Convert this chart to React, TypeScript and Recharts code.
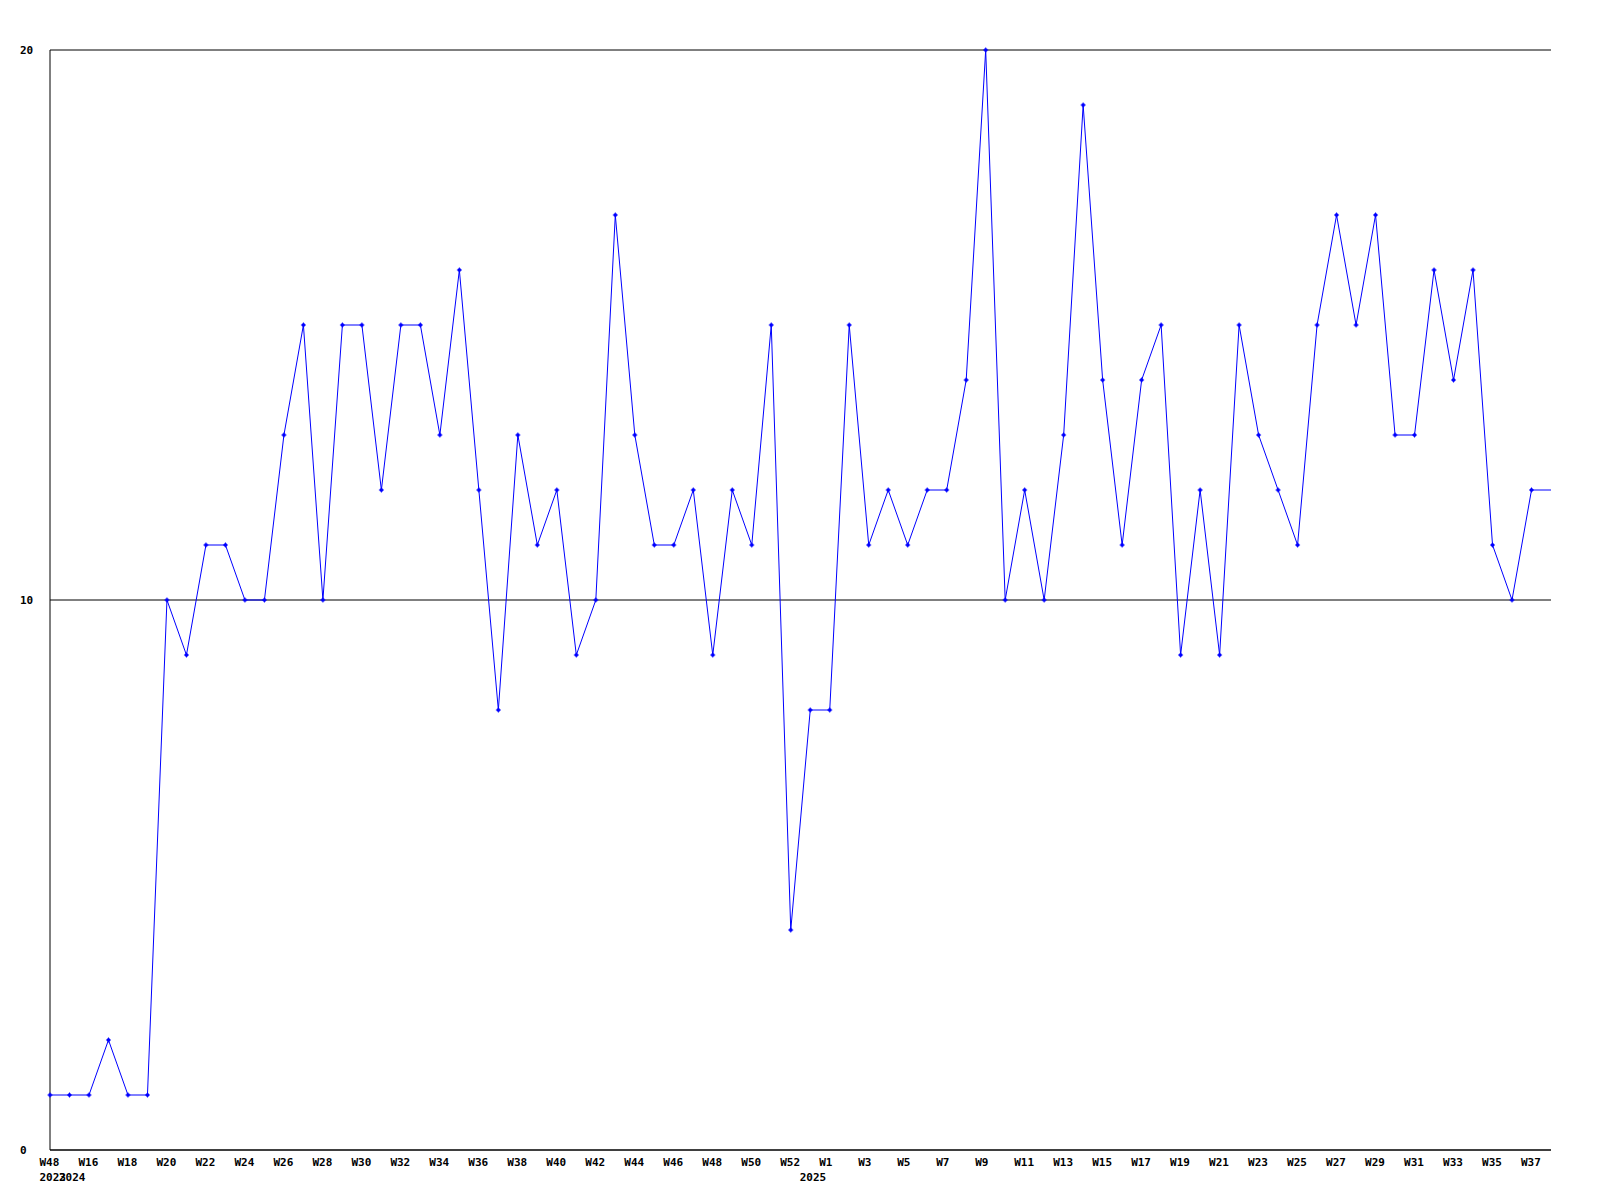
import React from "react";
import {
  LineChart,
  Line,
  XAxis,
  YAxis,
  CartesianGrid,
} from "recharts";

// ─── Data ──────────────────────────────────────────────────────────────────
const WEEKS = [
  "W48", "W15", "W16", "W17", "W18", "W19", "W20", "W21", "W22", "W23",
  "W24", "W25", "W26", "W27", "W28", "W29", "W30", "W31", "W32", "W33",
  "W34", "W35", "W36", "W37", "W38", "W39", "W40", "W41", "W42", "W43",
  "W44", "W45", "W46", "W47", "W48", "W49", "W50", "W51", "W52", "W0",
  "W1", "W2", "W3", "W4", "W5", "W6", "W7", "W8", "W9", "W10",
  "W11", "W12", "W13", "W14", "W15", "W16", "W17", "W18", "W19", "W20",
  "W21", "W22", "W23", "W24", "W25", "W26", "W27", "W28", "W29", "W30",
  "W31", "W32", "W33", "W34", "W35", "W36", "W37", "W38",
];

// year label shown where the year changes
const YEAR_MARKS: Record<number, string> = { 0: "2023", 1: "2024", 39: "2025" };

const VALUES = [
  1, 1, 1, 2, 1, 1, 10, 9, 11, 11,
  10, 10, 13, 15, 10, 15, 15, 12, 15, 15,
  13, 16, 12, 8, 13, 11, 12, 9, 10, 17,
  13, 11, 11, 12, 9, 12, 11, 15, 4, 8,
  8, 15, 11, 12, 11, 12, 12, 14, 20, 10,
  12, 10, 13, 19, 14, 11, 14, 15, 9, 12,
  9, 15, 13, 12, 11, 15, 17, 15, 17, 13,
  13, 16, 14, 16, 11, 10, 12, 12,
];

const Y_TICKS = [0, 10, 20];

const BLUE = "#0000ff";
const FONT = "'DejaVu Sans Mono', monospace";

const data = VALUES.map((v, i) => ({ i, v }));
const lastIndex = VALUES.length - 1;

// ─── Ticks / marks ─────────────────────────────────────────────────────────
function WeekTick(props: any) {
  const { x, y, payload } = props;
  const idx = payload.value as number;
  const year = YEAR_MARKS[idx];
  return (
    <g>
      {idx % 2 === 0 && (
        <text
          x={x - 10.5}
          y={y + 16}
          textAnchor="start"
          fontFamily={FONT}
          fontWeight="bold"
          fontSize={11}
          fill="#000"
        >
          {WEEKS[idx]}
        </text>
      )}
      {year && (
        <text
          x={x - 10.5}
          y={y + 31}
          textAnchor="start"
          fontFamily={FONT}
          fontWeight="bold"
          fontSize={11}
          fill="#000"
        >
          {year}
        </text>
      )}
    </g>
  );
}

function ValueTick(props: any) {
  const { y, payload } = props;
  return (
    <text
      x={20}
      y={y + 4}
      textAnchor="start"
      fontFamily={FONT}
      fontWeight="bold"
      fontSize={11}
      fill="#000"
    >
      {payload.value}
    </text>
  );
}

function CrossDot(props: any) {
  const { cx, cy, index } = props;
  if (index === lastIndex || cx == null) return <g key={`d${index}`} />;
  return (
    <g key={`d${index}`}>
      <path
        d={`M${cx - 2.5},${cy}H${cx + 2.5}M${cx},${cy - 2.5}V${cy + 2.5}`}
        stroke={BLUE}
        strokeWidth={1}
      />
      <rect x={cx - 1.5} y={cy - 1.5} width={3} height={3} fill={BLUE} />
    </g>
  );
}

// ─── Chart ─────────────────────────────────────────────────────────────────
export default function App() {
  return (
    <div style={{ width: 1600, height: 1200, background: "#fff" }}>
      <style>{`body{margin:0;background:#fff}`}</style>
      <LineChart
        width={1600}
        height={1200}
        data={data}
        margin={{ top: 50, right: 49, bottom: 0, left: 0 }}
      >
        <CartesianGrid
          vertical={false}
          stroke="#000"
          strokeDasharray=""
          strokeOpacity={1}
        />
        <XAxis
          dataKey="i"
          type="number"
          domain={[0, lastIndex]}
          ticks={data.map((d) => d.i)}
          interval={0}
          height={50}
          tickSize={0}
          tickMargin={0}
          tickLine={false}
          axisLine={{ stroke: "#000" }}
          tick={<WeekTick />}
        />
        <YAxis
          type="number"
          domain={[0, 20]}
          ticks={Y_TICKS}
          width={50}
          tickSize={0}
          tickMargin={0}
          tickLine={false}
          axisLine={{ stroke: "#000" }}
          tick={<ValueTick />}
        />
        <Line
          type="linear"
          dataKey="v"
          stroke={BLUE}
          strokeWidth={1}
          dot={<CrossDot />}
          activeDot={false}
          isAnimationActive={false}
        />
      </LineChart>
    </div>
  );
}
